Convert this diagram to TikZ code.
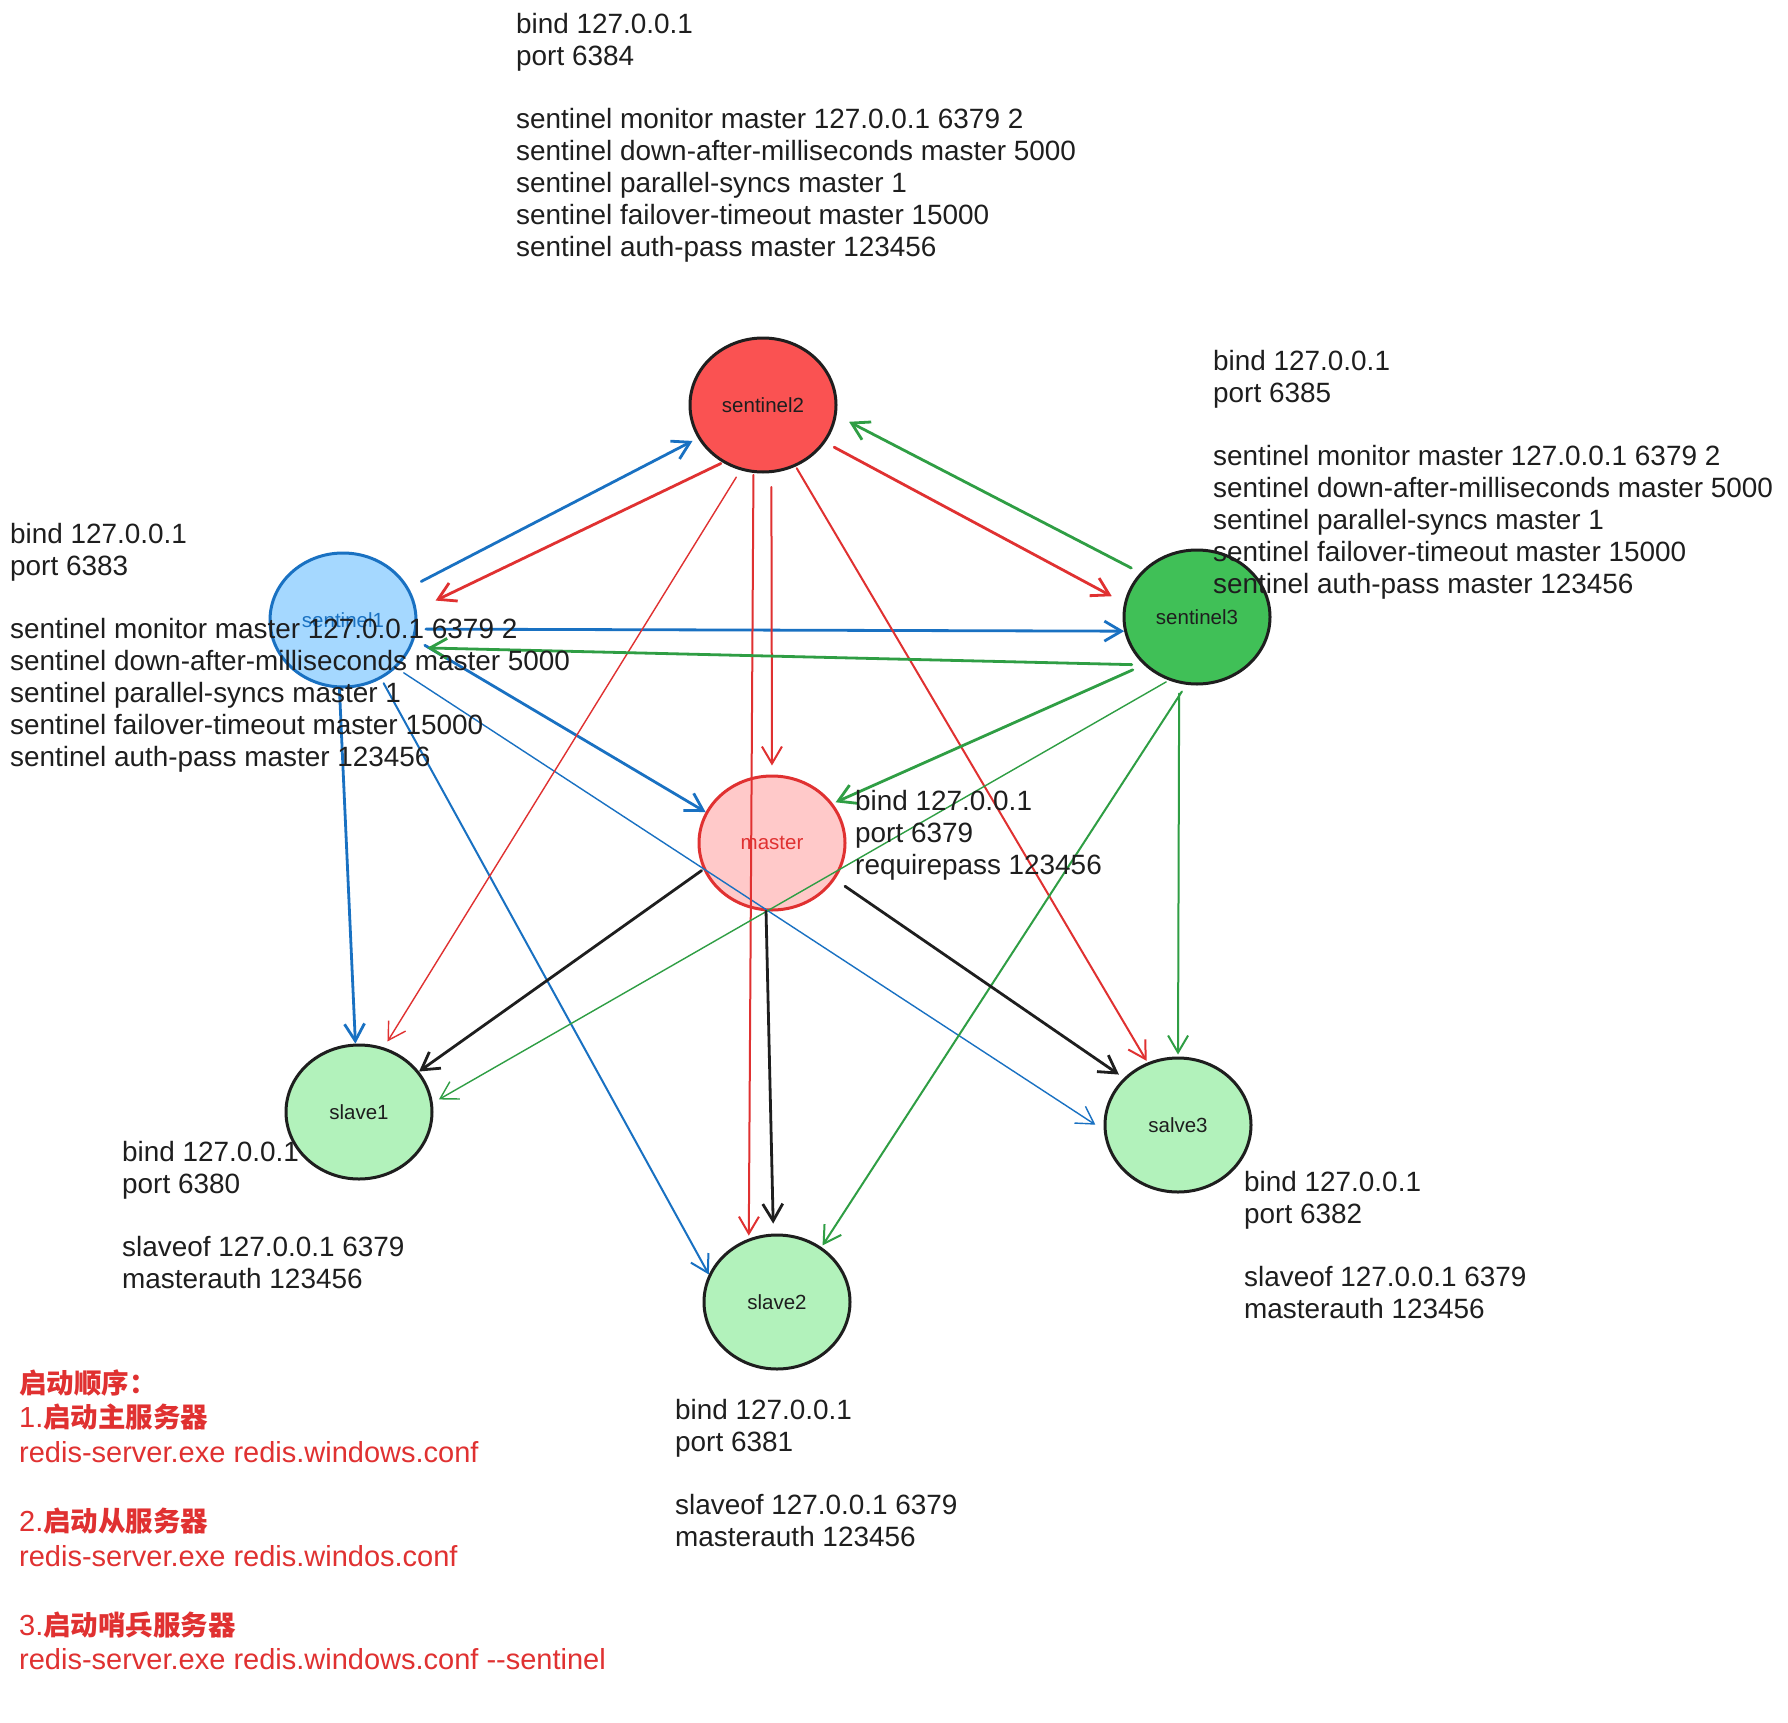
\documentclass[tikz,border=0pt]{standalone}
\usepackage{fontspec}
\setmainfont{Liberation Sans}
\newfontfamily\cjk{Noto Sans CJK SC}
\usetikzlibrary{arrows.meta,shapes.geometric}
\definecolor{ink}{HTML}{1E1E1E}
\definecolor{exred}{HTML}{E03131}
\definecolor{exblue}{HTML}{1971C2}
\definecolor{exgreen}{HTML}{2F9E44}
\definecolor{fillred}{HTML}{FA5252}
\definecolor{fillblue}{HTML}{A5D8FF}
\definecolor{fillgreen}{HTML}{40C057}
\definecolor{fillpink}{HTML}{FFC9C9}
\definecolor{filllight}{HTML}{B2F2BB}
\begin{document}
\begin{tikzpicture}[x=1pt,y=-1pt,
  nd/.style={ellipse, minimum width=146pt, minimum height=134pt, inner sep=0pt,
    line width=3pt, draw=ink, text=ink, font=\fontsize{20.5}{24}\selectfont},
  conf/.style={anchor=north west, align=left, inner sep=0pt, text=ink,
    font=\fontsize{27.9}{31.8}\selectfont},
  arr/.style={-{Straight Barb[length=17pt,width=20pt]}, line cap=round, line join=round},
  thk/.style={arr, line width=2.8pt},
  med/.style={arr, line width=2pt},
  thn/.style={arr, line width=1.4pt}
]
\fill[white] (0,0) rectangle (1788,1723);
\useasboundingbox (0,0) rectangle (1788,1723);

% nodes
\node[nd, fill=fillred] (S2) at (763,405) {sentinel2};
\node[nd, fill=fillblue, draw=exblue, text=exblue] (S1) at (343,620) {sentinel1};
\node[nd, fill=fillgreen] (S3) at (1197,617) {sentinel3};
\node[nd, fill=fillpink, draw=exred, text=exred] (M) at (772,843) {master};
\node[nd, fill=filllight] (L1) at (359,1112) {slave1};
\node[nd, fill=filllight] (L2) at (777,1302) {slave2};
\node[nd, fill=filllight] (L3) at (1178,1125) {salve3};

% blue connectors (sentinel1)
\draw[thk, exblue, shorten <=14pt, shorten >=6pt] (S1.26) -- (S2.207.6);
\draw[thk, exblue, shorten <=9pt] (S1.-7) -- (S3.191.2);
\draw[thk, exblue, shorten <=12pt] (S1.-15.9) -- (M.155.2);
\draw[thn, exblue, shorten <=9pt, shorten >=10pt] (S1.-42.4) -- (L3.184.8);
\draw[thk, exblue] (S1.-93.4) -- (L1.93.5);
\draw[med, exblue, shorten <=5pt] (S1.-57.2) -- (L2.158.3);

% red connectors (sentinel2)
\draw[thk, exred, shorten <=2pt, shorten >=21pt] (S2.235.4) -- (S1.8);
\draw[thk, exred, shorten <=10pt, shorten >=14pt] (S2.-31) -- (S3.169.3);
\draw[thn, exred, shorten <=8pt, shorten >=7pt] (S2.251.6) -- (L1.69.9);
\draw[med, exred, shorten <=14pt, shorten >=9pt] (S2.-83.7) -- (M.90.8);
\draw[med, exred, shorten <=2pt, shorten >=3pt] (S2.262.6) -- (L2.114.8);
\draw[med, exred, shorten <=2pt, shorten >=2pt] (S2.-62.7) -- (L3.116.2);

% green connectors (sentinel3)
\draw[thk, exgreen, shorten <=10pt, shorten >=14pt] (S3.142.6) -- (S2.-8);
\draw[thk, exgreen, shorten <=12pt, shorten >=16pt] (S3.222.1) -- (S1.-22.5);
\draw[thk, exgreen, shorten <=12pt, shorten >=3pt] (S3.222.1) -- (M.33.5);
\draw[thn, exgreen, shorten <=3pt, shorten >=7pt] (S3.246) -- (L1.7.2);
\draw[med, exgreen, shorten <=8pt, shorten >=2pt] (S3.261.5) -- (L2.51.2);
\draw[med, exgreen, shorten <=10pt, shorten >=2pt] (S3.255.8) -- (L3.90.8);

% black connectors (master)
\draw[thk, ink, shorten <=2pt] (M.201.4) -- (L1.34.1);
\draw[thk, ink, shorten >=10pt] (M.265) -- (L2.93.7);
\draw[thk, ink, shorten <=12pt, shorten >=6pt] (M.-30.3) -- (L3.139.2);

% configuration texts
\node[conf] (c2) at (516,13) {bind 127.0.0.1\\port 6384\\[31.8pt]sentinel monitor master 127.0.0.1 6379 2\\sentinel down-after-milliseconds master 5000\\sentinel parallel-syncs master 1\\sentinel failover-timeout master 15000\\sentinel auth-pass master 123456};
\node[conf] (c3) at (1213,350) {bind 127.0.0.1\\port 6385\\[31.8pt]sentinel monitor master 127.0.0.1 6379 2\\sentinel down-after-milliseconds master 5000\\sentinel parallel-syncs master 1\\sentinel failover-timeout master 15000\\sentinel auth-pass master 123456};
\node[conf] (c1) at (10,523) {bind 127.0.0.1\\port 6383\\[31.8pt]sentinel monitor master 127.0.0.1 6379 2\\sentinel down-after-milliseconds master 5000\\sentinel parallel-syncs master 1\\sentinel failover-timeout master 15000\\sentinel auth-pass master 123456};
\node[conf] (cm) at (855,790) {bind 127.0.0.1\\port 6379\\requirepass 123456};
\node[conf] (cl1) at (122,1141) {bind 127.0.0.1\\port 6380\\[31.8pt]slaveof 127.0.0.1 6379\\masterauth 123456};
\node[conf] (cl2) at (675,1399) {bind 127.0.0.1\\port 6381\\[31.8pt]slaveof 127.0.0.1 6379\\masterauth 123456};
\node[conf] (cl3) at (1244,1171) {bind 127.0.0.1\\port 6382\\[31.8pt]slaveof 127.0.0.1 6379\\masterauth 123456};

% start order
\node[conf, text=exred, font=\fontsize{29}{34.6}\selectfont] (howto) at (19,1369)
  {{\cjk\bfseries\fontsize{27.5}{34.6}\selectfont 启动顺序：}\\
   1.{\cjk\bfseries\fontsize{27.5}{34.6}\selectfont 启动主服务器}\\
   redis-server.exe redis.windows.conf\\[34.6pt]
   2.{\cjk\bfseries\fontsize{27.5}{34.6}\selectfont 启动从服务器}\\
   redis-server.exe redis.windos.conf\\[34.6pt]
   3.{\cjk\bfseries\fontsize{27.5}{34.6}\selectfont 启动哨兵服务器}\\
   redis-server.exe redis.windows.conf -{}-sentinel};
\end{tikzpicture}
\end{document}
